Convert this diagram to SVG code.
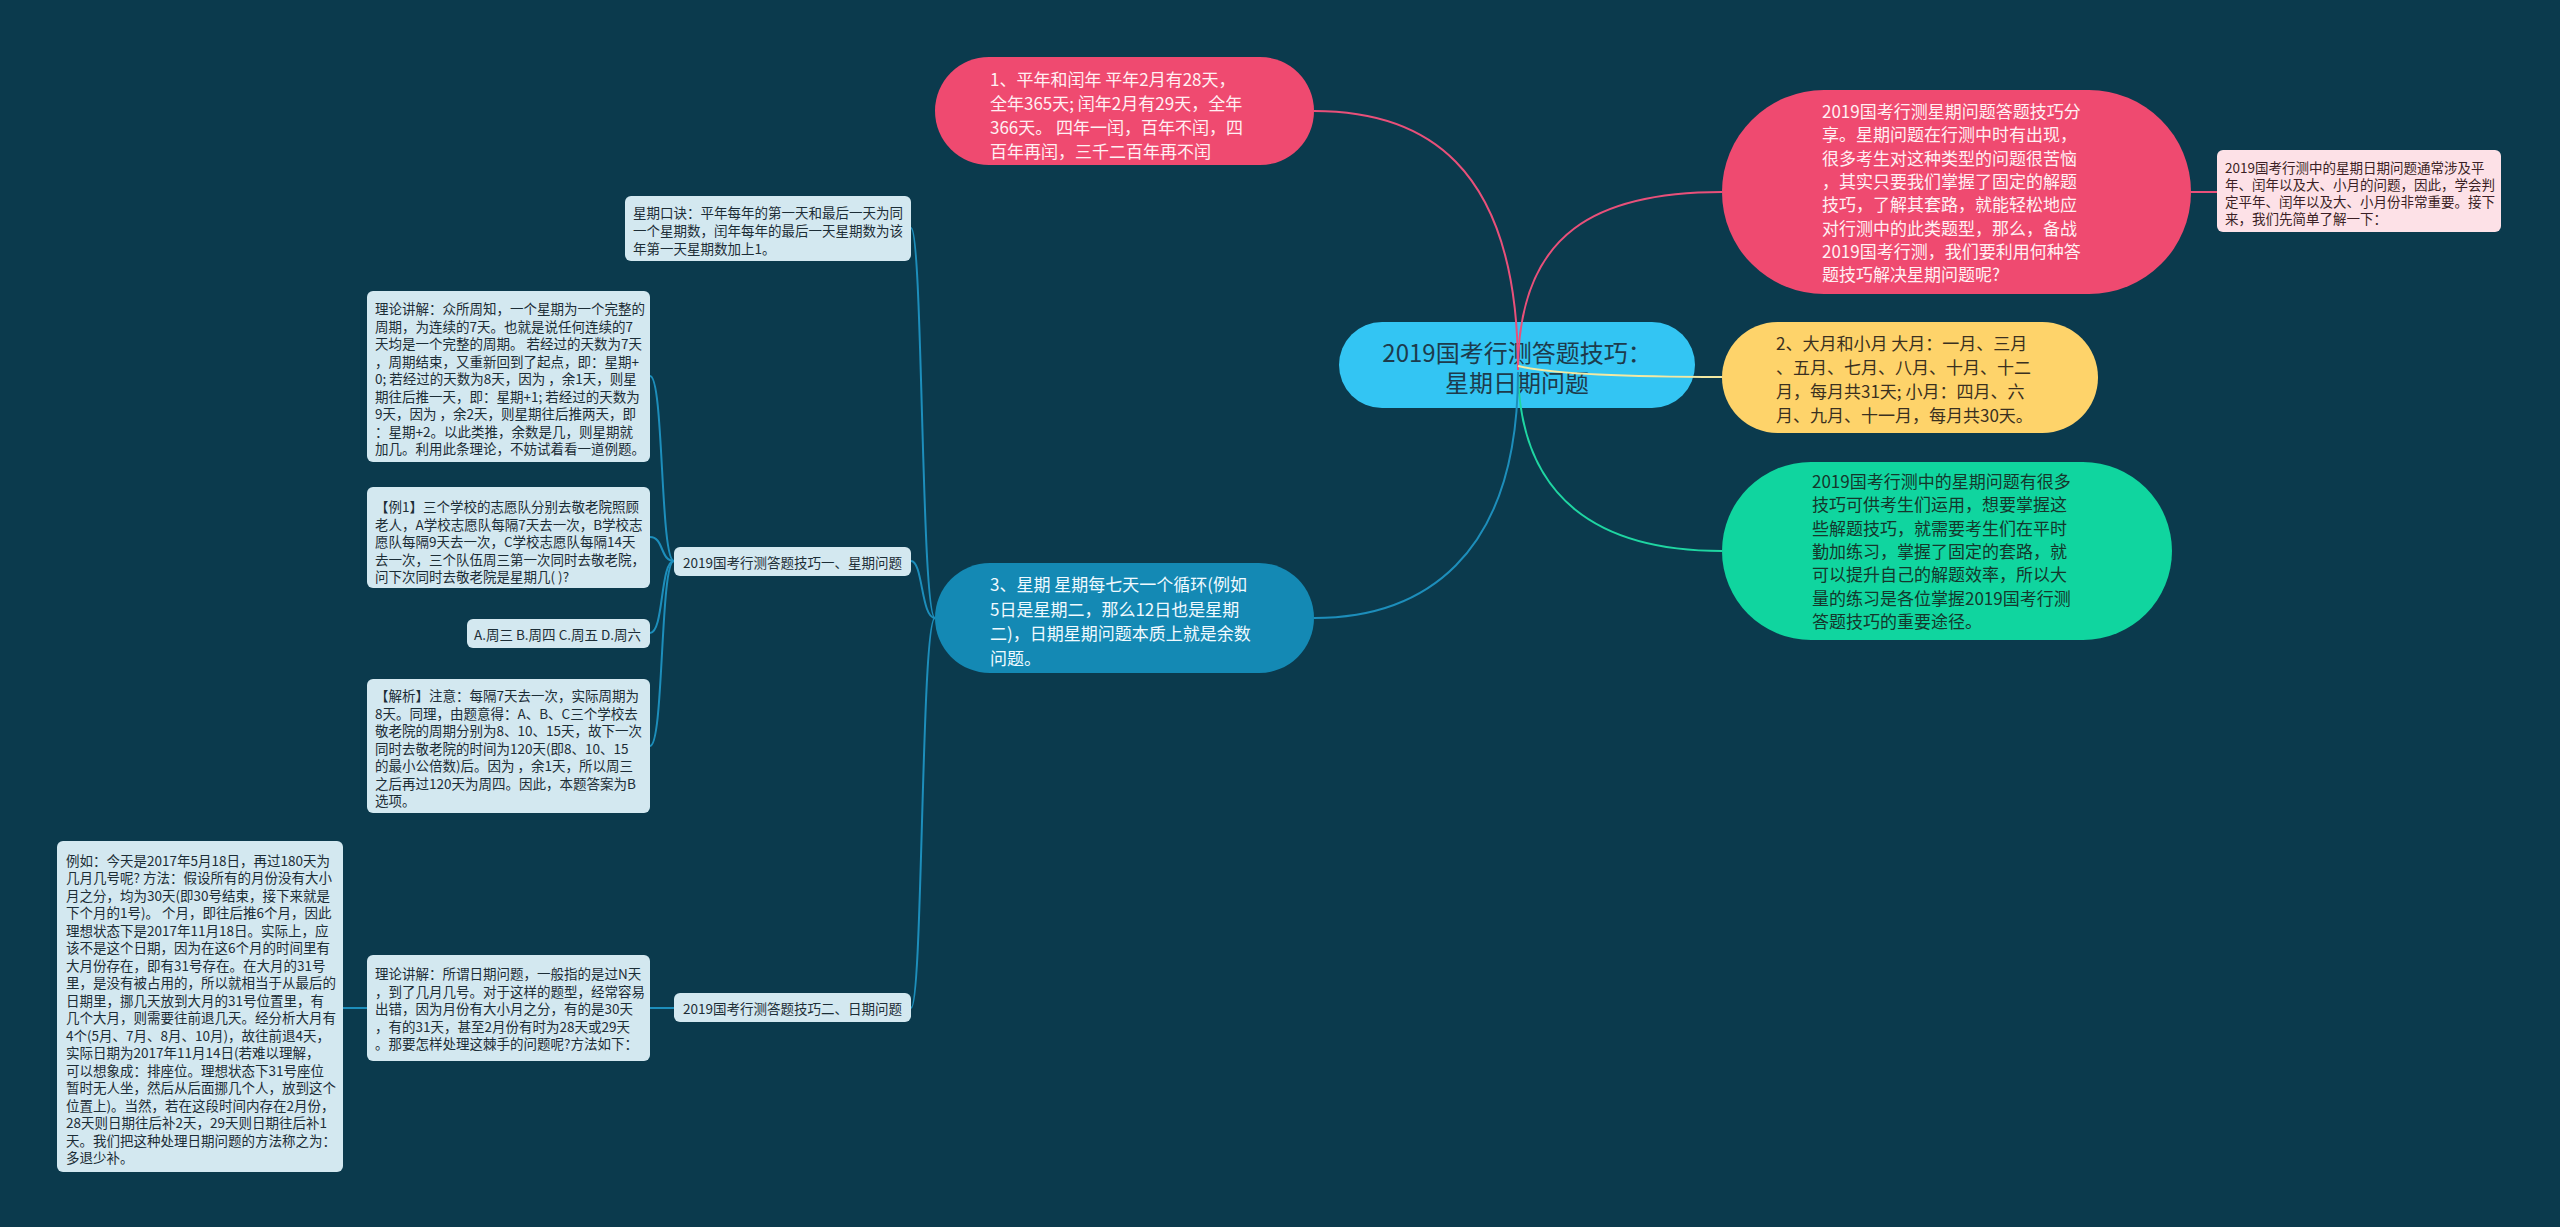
<svg xmlns="http://www.w3.org/2000/svg" width="2560" height="1227" viewBox="0 0 2560 1227">
<style>
text{font-family:"Noto Sans CJK SC","Noto Sans",sans-serif;dominant-baseline:central}
.lk{fill:none;stroke-width:2}
.pk{stroke:#e9507a}
.yl{stroke:#f3e9a3}
.gr{stroke:#1fd6a2}
.bl{stroke:#1d8ebb}
.main{font-size:17px}
.sub{font-size:13.5px;fill:#1c2d36}
.box{fill:#d3e8f0}
</style>
<rect width="2560" height="1227" fill="#0b3a4d"/>
<g id="center">
<rect x="1339" y="322" width="356" height="86" rx="43" fill="#33c5f3"/>
<text font-size="24" fill="#1d3b4c" text-anchor="middle"><tspan x="1517" y="351">2019国考行测答题技巧：</tspan><tspan x="1517" y="381">星期日期问题</tspan></text>
</g>
<g id="node-1">
<rect x="935" y="57" width="379" height="108" rx="54" fill="#ef4a70"/>
<text class="main" fill="#fff0f3"><tspan x="990" y="78">1、平年和闰年 平年2月有28天，</tspan><tspan x="990" y="102">全年365天; 闰年2月有29天，全年</tspan><tspan x="990" y="126">366天。 四年一闰，百年不闰，四</tspan><tspan x="990" y="150">百年再闰，三千二百年再不闰</tspan></text>
</g>
<g id="node-intro">
<rect x="1722" y="90" width="469" height="204" rx="102" fill="#ef4a70"/>
<text class="main" fill="#fff0f3"><tspan x="1822" y="110">2019国考行测星期问题答题技巧分</tspan><tspan x="1822" y="133.3">享。星期问题在行测中时有出现，</tspan><tspan x="1822" y="156.6">很多考生对这种类型的问题很苦恼</tspan><tspan x="1822" y="179.9">，其实只要我们掌握了固定的解题</tspan><tspan x="1822" y="203.2">技巧，了解其套路，就能轻松地应</tspan><tspan x="1822" y="226.5">对行测中的此类题型，那么，备战</tspan><tspan x="1822" y="249.8">2019国考行测，我们要利用何种答</tspan><tspan x="1822" y="273.1">题技巧解决星期问题呢?</tspan></text>
</g>
<g id="node-intro-note">
<rect x="2217" y="150" width="284" height="82" rx="6" fill="#fde1e7"/>
<text font-size="13.5" fill="#3b1f25"><tspan x="2225" y="167">2019国考行测中的星期日期问题通常涉及平</tspan><tspan x="2225" y="184">年、闰年以及大、小月的问题，因此，学会判</tspan><tspan x="2225" y="201">定平年、闰年以及大、小月份非常重要。接下</tspan><tspan x="2225" y="218">来，我们先简单了解一下：</tspan></text>
</g>
<g id="node-2">
<rect x="1722" y="322" width="376" height="111" rx="55.5" fill="#fed36a"/>
<text class="main" fill="#3a3020"><tspan x="1776" y="341.5">2、大月和小月 大月：一月、三月</tspan><tspan x="1776" y="365.5">、五月、七月、八月、十月、十二</tspan><tspan x="1776" y="389.5">月，每月共31天; 小月：四月、六</tspan><tspan x="1776" y="413.5">月、九月、十一月，每月共30天。</tspan></text>
</g>
<g id="node-practice">
<rect x="1722" y="462" width="450" height="178" rx="89" fill="#10d59f"/>
<text class="main" fill="#15372c"><tspan x="1812" y="480">2019国考行测中的星期问题有很多</tspan><tspan x="1812" y="503.3">技巧可供考生们运用，想要掌握这</tspan><tspan x="1812" y="526.6">些解题技巧，就需要考生们在平时</tspan><tspan x="1812" y="549.9">勤加练习，掌握了固定的套路，就</tspan><tspan x="1812" y="573.2">可以提升自己的解题效率，所以大</tspan><tspan x="1812" y="596.5">量的练习是各位掌握2019国考行测</tspan><tspan x="1812" y="619.8">答题技巧的重要途径。</tspan></text>
</g>
<g id="node-3">
<rect x="935" y="563" width="379" height="110" rx="55" fill="#1489b4"/>
<text class="main" fill="#f0faff"><tspan x="990" y="583">3、星期 星期每七天一个循环(例如</tspan><tspan x="990" y="607.5">5日是星期二，那么12日也是星期</tspan><tspan x="990" y="632">二)，日期星期问题本质上就是余数</tspan><tspan x="990" y="656.5">问题。</tspan></text>
</g>
<g id="node-koujue">
<rect class="box" x="625" y="196" width="286" height="65" rx="6"/>
<text class="sub"><tspan x="633" y="212">星期口诀：平年每年的第一天和最后一天为同</tspan><tspan x="633" y="230">一个星期数，闰年每年的最后一天星期数为该</tspan><tspan x="633" y="248">年第一天星期数加上1。</tspan></text>
</g>
<g id="node-tip1">
<rect class="box" x="674" y="547" width="237" height="29" rx="6"/>
<text class="sub"><tspan x="683" y="562">2019国考行测答题技巧一、星期问题</tspan></text>
</g>
<g id="node-tip2">
<rect class="box" x="674" y="993" width="237" height="29" rx="6"/>
<text class="sub"><tspan x="683" y="1008">2019国考行测答题技巧二、日期问题</tspan></text>
</g>
<g id="node-theory1">
<rect class="box" x="367" y="291" width="283" height="171" rx="6"/>
<text class="sub"><tspan x="375" y="308">理论讲解：众所周知，一个星期为一个完整的</tspan><tspan x="375" y="325.5">周期，为连续的7天。也就是说任何连续的7</tspan><tspan x="375" y="343">天均是一个完整的周期。 若经过的天数为7天</tspan><tspan x="375" y="360.5">，周期结束，又重新回到了起点，即：星期+</tspan><tspan x="375" y="378">0; 若经过的天数为8天，因为 ，余1天，则星</tspan><tspan x="375" y="395.5">期往后推一天，即：星期+1; 若经过的天数为</tspan><tspan x="375" y="413">9天，因为 ，余2天，则星期往后推两天，即</tspan><tspan x="375" y="430.5">：星期+2。以此类推，余数是几，则星期就</tspan><tspan x="375" y="448">加几。利用此条理论，不妨试着看一道例题。</tspan></text>
</g>
<g id="node-example1">
<rect class="box" x="367" y="487" width="283" height="101" rx="6"/>
<text class="sub"><tspan x="375" y="506">【例1】三个学校的志愿队分别去敬老院照顾</tspan><tspan x="375" y="523.5">老人，A学校志愿队每隔7天去一次，B学校志</tspan><tspan x="375" y="541">愿队每隔9天去一次，C学校志愿队每隔14天</tspan><tspan x="375" y="558.5">去一次，三个队伍周三第一次同时去敬老院，</tspan><tspan x="375" y="576">问下次同时去敬老院是星期几( )?</tspan></text>
</g>
<g id="node-options">
<rect class="box" x="467" y="619" width="183" height="29" rx="6"/>
<text class="sub"><tspan x="474" y="634">A.周三 B.周四 C.周五 D.周六</tspan></text>
</g>
<g id="node-analysis">
<rect class="box" x="367" y="679" width="283" height="134" rx="6"/>
<text class="sub"><tspan x="375" y="695">【解析】注意：每隔7天去一次，实际周期为</tspan><tspan x="375" y="712.5">8天。同理，由题意得：A、B、C三个学校去</tspan><tspan x="375" y="730">敬老院的周期分别为8、10、15天，故下一次</tspan><tspan x="375" y="747.5">同时去敬老院的时间为120天(即8、10、15</tspan><tspan x="375" y="765">的最小公倍数)后。因为 ，余1天，所以周三</tspan><tspan x="375" y="782.5">之后再过120天为周四。因此，本题答案为B</tspan><tspan x="375" y="800">选项。</tspan></text>
</g>
<g id="node-theory2">
<rect class="box" x="367" y="955" width="283" height="106" rx="6"/>
<text class="sub"><tspan x="375" y="973">理论讲解：所谓日期问题，一般指的是过N天</tspan><tspan x="375" y="990.5">，到了几月几号。对于这样的题型，经常容易</tspan><tspan x="375" y="1008">出错，因为月份有大小月之分，有的是30天</tspan><tspan x="375" y="1025.5">，有的31天，甚至2月份有时为28天或29天</tspan><tspan x="375" y="1043">。那要怎样处理这棘手的问题呢?方法如下：</tspan></text>
</g>
<g id="node-example2">
<rect class="box" x="57" y="841" width="286" height="331" rx="6"/>
<text class="sub"><tspan x="66" y="859.5">例如：今天是2017年5月18日，再过180天为</tspan><tspan x="66" y="877">几月几号呢? 方法：假设所有的月份没有大小</tspan><tspan x="66" y="894.5">月之分，均为30天(即30号结束，接下来就是</tspan><tspan x="66" y="912">下个月的1号)。 个月，即往后推6个月，因此</tspan><tspan x="66" y="929.5">理想状态下是2017年11月18日。实际上，应</tspan><tspan x="66" y="947">该不是这个日期，因为在这6个月的时间里有</tspan><tspan x="66" y="964.5">大月份存在，即有31号存在。在大月的31号</tspan><tspan x="66" y="982">里，是没有被占用的，所以就相当于从最后的</tspan><tspan x="66" y="999.5">日期里，挪几天放到大月的31号位置里，有</tspan><tspan x="66" y="1017">几个大月，则需要往前退几天。经分析大月有</tspan><tspan x="66" y="1034.5">4个(5月、7月、8月、10月)，故往前退4天，</tspan><tspan x="66" y="1052">实际日期为2017年11月14日(若难以理解，</tspan><tspan x="66" y="1069.5">可以想象成：排座位。理想状态下31号座位</tspan><tspan x="66" y="1087">暂时无人坐，然后从后面挪几个人，放到这个</tspan><tspan x="66" y="1104.5">位置上)。当然，若在这段时间内存在2月份，</tspan><tspan x="66" y="1122">28天则日期往后补2天，29天则日期往后补1</tspan><tspan x="66" y="1139.5">天。我们把这种处理日期问题的方法称之为：</tspan><tspan x="66" y="1157">多退少补。</tspan></text>
</g>
<g id="connectors">
<path class="lk pk" d="M1518,370 C1518,160 1420,111 1314,111"/>
<path class="lk pk" d="M1518,370 C1518,230 1600,192 1722,192"/>
<path class="lk pk" d="M2191,192 L2217,192"/>
<path class="lk yl" d="M1518,366 C1560,376 1650,377 1722,377"/>
<path class="lk gr" d="M1518,372 C1520,500 1600,551 1722,551"/>
<path class="lk bl" d="M1518,372 C1518,560 1420,618 1314,618"/>
<path class="lk bl" d="M935,618 C921,618 923,228 911,228"/>
<path class="lk bl" d="M935,618 C921,618 923,561 911,561"/>
<path class="lk bl" d="M935,618 C921,618 923,1008 911,1008"/>
<path class="lk bl" d="M674,561 C660,561 664,376 650,376"/>
<path class="lk bl" d="M674,561 C660,561 664,537 650,537"/>
<path class="lk bl" d="M674,561 C660,561 664,633 650,633"/>
<path class="lk bl" d="M674,561 C660,561 664,746 650,746"/>
<path class="lk bl" d="M674,1008 L650,1008"/>
<path class="lk bl" d="M367,1008 L343,1008"/>
</g>
</svg>
